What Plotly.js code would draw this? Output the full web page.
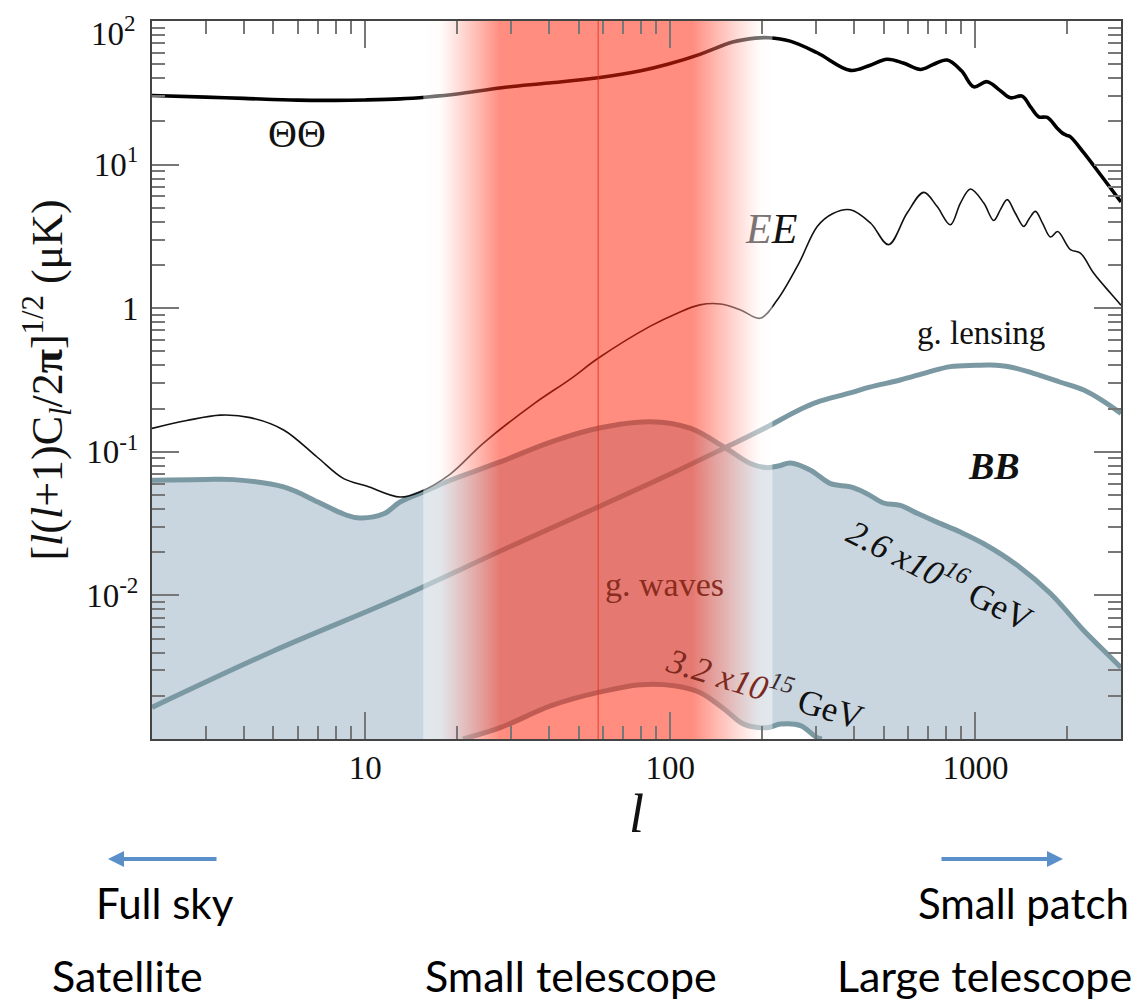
<!DOCTYPE html>
<html>
<head>
<meta charset="utf-8">
<script src="https://cdn.plot.ly/plotly-3.0.1.min.js"></script>
<style>
  html, body { margin: 0; padding: 0; background: #ffffff; }
  #chart { width: 1144px; height: 1006px; }
</style>
</head>
<body>
<div id="chart"></div>
<script>
// CMB angular power spectra, amplitude [l(l+1)C_l/2π]^{1/2} in μK vs multipole l

// temperature (ΘΘ)
const ttL   = [2, 3, 4, 6, 8, 10, 13, 16, 20, 28, 40, 58, 80, 98, 125, 160, 190, 210, 247, 303, 389, 450, 513, 580, 660, 730, 808, 900, 988, 1092, 1200, 1302, 1423, 1520, 1613, 1720, 1850, 1925, 1990, 2048, 2264, 2570, 3000];
const ttAmp = [30.3, 29.5, 28.9, 28.1, 28.0, 28.2, 28.7, 29.6, 31.0, 34.3, 37.0, 40.3, 45.0, 49.9, 58.6, 71.3, 76.0, 76.5, 72.4, 60.1, 45.3, 49.0, 54.1, 51.0, 46.0, 50.0, 53.5, 45.0, 34.8, 37.8, 33.0, 29.2, 30.0, 25.0, 21.5, 21.3, 18.0, 16.6, 16.0, 15.6, 12.1, 8.5, 5.5];

// E-mode polarization (EE)
const eeL   = [2, 2.6, 3.35, 4.2, 5.4, 6.95, 8.5, 10.1, 13, 15.1, 19, 24.4, 35.6, 47, 58, 86, 105, 125, 146, 170, 197, 224, 264, 303, 340, 389, 453, 519, 597, 677, 748, 828, 893, 963, 1065, 1148, 1210, 1271, 1350, 1440, 1500, 1573, 1660, 1762, 1860, 2048, 2208, 2443, 2774, 3000];
const eeAmp = [0.1455, 0.165, 0.180, 0.173, 0.142, 0.092, 0.065, 0.0578, 0.0484, 0.0525, 0.070, 0.115, 0.215, 0.321, 0.448, 0.75, 0.92, 1.055, 1.07, 0.973, 0.851, 1.14, 2.06, 3.71, 4.55, 4.85, 3.92, 2.77, 4.60, 6.41, 5.12, 3.81, 5.4, 6.77, 5.4, 4.08, 4.9, 5.70, 4.6, 3.71, 4.2, 4.72, 3.9, 3.13, 3.42, 2.56, 2.42, 1.75, 1.27, 1.05];

// B-mode from gravitational lensing
const lensL   = [2, 5, 13, 30, 58, 100, 150, 200, 267, 303, 389, 450, 567, 700, 828, 1000, 1122, 1300, 1549, 1900, 2264, 2600, 3000];
const lensAmp = [0.00166, 0.0041, 0.0097, 0.022, 0.0413, 0.070, 0.106, 0.143, 0.198, 0.222, 0.257, 0.282, 0.316, 0.359, 0.392, 0.400, 0.402, 0.390, 0.352, 0.305, 0.269, 0.228, 0.185];

// B-mode from gravitational waves, inflation energy 2.6x10^16 GeV
const bbHighL   = [2, 3, 3.7, 5.4, 7, 8.2, 9.4, 11.5, 13, 16, 19, 27.7, 40.5, 58, 86, 116, 150, 183, 207, 228, 247, 288, 335, 390, 441, 500, 567, 650, 748, 893, 1065, 1371, 1762, 2264, 2570, 3000];
const bbHighAmp = [0.0634, 0.0642, 0.064, 0.0569, 0.0447, 0.038, 0.0347, 0.037, 0.0447, 0.054, 0.0634, 0.085, 0.117, 0.146, 0.162, 0.146, 0.108, 0.0828, 0.0776, 0.080, 0.0836, 0.0745, 0.060, 0.0569, 0.0511, 0.044, 0.0423, 0.037, 0.0324, 0.0276, 0.0229, 0.0162, 0.0103, 0.00569, 0.00435, 0.00315];

// B-mode from gravitational waves, inflation energy 3.2x10^15 GeV (visible part)
const bbLowL   = [20.9, 27.7, 40.5, 58, 80, 103, 125, 150, 174, 207, 230, 267, 303, 314];
const bbLowAmp = [0.001, 0.0012, 0.0017, 0.00211, 0.00239, 0.00235, 0.00211, 0.00162, 0.00127, 0.0012, 0.00127, 0.00124, 0.00102, 0.001];

// multipole window of a small-aperture telescope, and its centre
const bandL = [15.5, 216];
const bandCenterL = 58;

// axis extents and tick labels (the top decade label sits just inside the frame)
const lRange = [2, 3000];
const ampRange = [1e-3, 1e2];
const xTickVals = [10, 100, 1000];
const xTickText = ['10', '100', '1000'];
const yTickVals = [0.01, 0.1, 1, 10, 100];
const yTickText = ['10<sup>-2</sup>', '10<sup>-1</sup>', '1', '10<sup>1</sup>', ''];
const yTopLabel = '10<sup>2</sup>';

// ---------------------------------------------------------------------------
const MARGIN = { l: 152, r: 23, t: 21, b: 267 };
const W = 1144, H = 1006;
const PW = W - MARGIN.l - MARGIN.r, PH = H - MARGIN.t - MARGIN.b;
const paperX = p => (p - MARGIN.l) / PW;
const paperY = p => (H - MARGIN.b - p) / PH;

function minorTicks(d0, d1, lo, hi) {
  const out = [];
  for (let d = d0; d <= d1; d++) {
    for (let k = 2; k <= 9; k++) {
      const v = k * Math.pow(10, d);
      if (v >= lo && v <= hi) out.push(v);
    }
  }
  return out;
}

const SERIF = 'Liberation Serif, Times New Roman, serif';
const SANS = 'Lato, sans-serif';
const LINE_BLUE = '#7b99a3';
const FILL_BLUE = '#c9d6e0';
const SMOOTH = 1.0;

// lower edge of the shaded B-mode region: axis floor, then the low-energy curve
const lowerEdgeL = [lRange[0]].concat(bbLowL, [lRange[1]]);
const lowerEdgeAmp = [ampRange[0]].concat(bbLowAmp, [ampRange[0]]);

const traces = [
  { x: lowerEdgeL, y: lowerEdgeAmp, mode: 'lines', line: { width: 0, shape: 'spline', smoothing: SMOOTH },
    hoverinfo: 'skip', showlegend: false },
  { x: bbHighL, y: bbHighAmp, mode: 'lines', fill: 'tonexty', fillcolor: FILL_BLUE,
    line: { color: LINE_BLUE, width: 5, shape: 'spline', smoothing: SMOOTH }, name: 'BB 2.6e16' },
  { x: bbLowL, y: bbLowAmp, mode: 'lines',
    line: { color: LINE_BLUE, width: 5, shape: 'spline', smoothing: SMOOTH }, name: 'BB 3.2e15' },
  { x: lensL, y: lensAmp, mode: 'lines',
    line: { color: LINE_BLUE, width: 5, shape: 'spline', smoothing: SMOOTH }, name: 'lensing' },
  { x: eeL, y: eeAmp, mode: 'lines',
    line: { color: '#111111', width: 1.6, shape: 'spline', smoothing: SMOOTH }, name: 'EE' },
  { x: ttL, y: ttAmp, mode: 'lines',
    line: { color: '#000000', width: 3.6, shape: 'spline', smoothing: SMOOTH }, name: 'TT' },
  { x: [bandL[0], bandL[0], bandL[1], bandL[1]],
    y: [ampRange[0], ampRange[1], ampRange[1], ampRange[0]],
    mode: 'none', fill: 'toself', fillcolor: 'rgba(255,35,10,0.5)',
    fillgradient: {
      type: 'horizontal',
      colorscale: [
        [0.00, 'rgba(255,255,255,0.45)'],
        [0.05, 'rgba(255,248,246,0.45)'],
        [0.22, 'rgba(255,35,10,0.52)'],
        [0.77, 'rgba(255,35,10,0.52)'],
        [0.96, 'rgba(255,246,244,0.45)'],
        [1.00, 'rgba(255,255,255,0.45)']
      ]
    },
    hoverinfo: 'skip', name: 'window' },
  { x: [bandCenterL, bandCenterL], y: ampRange, mode: 'lines',
    line: { color: 'rgba(225,45,25,0.85)', width: 1 }, hoverinfo: 'skip', name: 'centre' }
];

const TICK_FONT = { family: SERIF, size: 33, color: '#111111' };
const tickStyle = { ticks: 'inside', ticklen: 27, tickwidth: 2, tickcolor: '#777777',
  showline: true, linecolor: '#444444', linewidth: 2, mirror: 'ticks',
  showgrid: false, zeroline: false, tickmode: 'array', ticklabeloverflow: 'allow',
  tickfont: TICK_FONT };

const layout = {
  width: W, height: H,
  margin: MARGIN,
  paper_bgcolor: '#ffffff', plot_bgcolor: '#ffffff',
  showlegend: false, hovermode: false,
  xaxis: Object.assign({}, tickStyle, {
    type: 'log', range: [Math.log10(lRange[0]), Math.log10(lRange[1])],
    tickvals: xTickVals, ticktext: xTickText, ticklabelstandoff: -2,
    minor: { tickmode: 'array', tickvals: minorTicks(0, 3, lRange[0], lRange[1]),
             ticks: 'inside', ticklen: 13, tickwidth: 2, tickcolor: '#777777' },
    title: { text: '<i>l</i>', font: { family: SERIF, size: 54, color: '#111111' }, standoff: 10 }
  }),
  yaxis: Object.assign({}, tickStyle, {
    type: 'log', range: [Math.log10(ampRange[0]), Math.log10(ampRange[1])],
    tickvals: yTickVals, ticktext: yTickText, ticklabelstandoff: 5,
    minor: { tickmode: 'array', tickvals: minorTicks(-3, 1, ampRange[0], ampRange[1]),
             ticks: 'inside', ticklen: 13, tickwidth: 2, tickcolor: '#777777' },
    title: { text: '[<i>l</i>(<i>l</i>+1)C<sub><i>l</i></sub>/2<b>π</b>]<sup>1/2</sup> (μK)',
             font: { family: SERIF, size: 44, color: '#111111' }, standoff: 10 }
  }),
  annotations: [
    { text: yTopLabel, x: paperX(138), y: paperY(31), xanchor: 'right', font: TICK_FONT },

    { text: 'ΘΘ', x: paperX(297), y: paperY(134), font: { family: SERIF, size: 40, color: '#111' } },
    { text: '<i><span style="color:#7d7373">E</span>E</i>', x: paperX(771), y: paperY(229), font: { family: SERIF, size: 42, color: '#111' } },
    { text: 'g. lensing', x: paperX(981), y: paperY(333), font: { family: SERIF, size: 33, color: '#111' } },
    { text: '<b><i>BB</i></b>', x: paperX(994), y: paperY(466), font: { family: SERIF, size: 38, color: '#111' } },
    { text: 'g. waves', x: paperX(664), y: paperY(584), font: { family: SERIF, size: 34, color: '#8a2c1e' } },
    { text: '<i>2.6 x10<sup>16</sup></i> GeV', x: paperX(941), y: paperY(573), textangle: 27,
      font: { family: SERIF, size: 35, color: '#111' } },
    { text: '<i><span style="color:#7c2a1e">3.2 x10</span><sup><span style="color:#3b2b2b">15</span></sup></i> GeV',
      x: paperX(765), y: paperY(686), textangle: 17, font: { family: SERIF, size: 35, color: '#111' } },

    // sky coverage arrows
    { text: '', x: paperX(108), y: paperY(859), ax: 110, ay: 0, showarrow: true,
      arrowhead: 2, arrowsize: 0.8, arrowwidth: 4, arrowcolor: '#5b8fc9' },
    { text: '', x: paperX(1063), y: paperY(859), ax: -123, ay: 0, showarrow: true,
      arrowhead: 2, arrowsize: 0.8, arrowwidth: 4, arrowcolor: '#5b8fc9' },

    { text: 'Full sky', x: paperX(165), y: paperY(903), font: { family: SANS, size: 42, color: '#000' } },
    { text: 'Small patch', x: paperX(1023), y: paperY(903), font: { family: SANS, size: 42, color: '#000' } },
    { text: 'Satellite', x: paperX(127), y: paperY(976), font: { family: SANS, size: 43, color: '#000' } },
    { text: 'Small telescope', x: paperX(571), y: paperY(976), font: { family: SANS, size: 43, color: '#000' } },
    { text: 'Large telescope', x: paperX(984), y: paperY(976), font: { family: SANS, size: 43, color: '#000' } }
  ].map(a => Object.assign({ xref: 'paper', yref: 'paper', showarrow: false,
                             xanchor: 'center', yanchor: 'middle' }, a))
};

Plotly.newPlot('chart', traces, layout, { staticPlot: true, displayModeBar: false });
</script>
</body>
</html>
